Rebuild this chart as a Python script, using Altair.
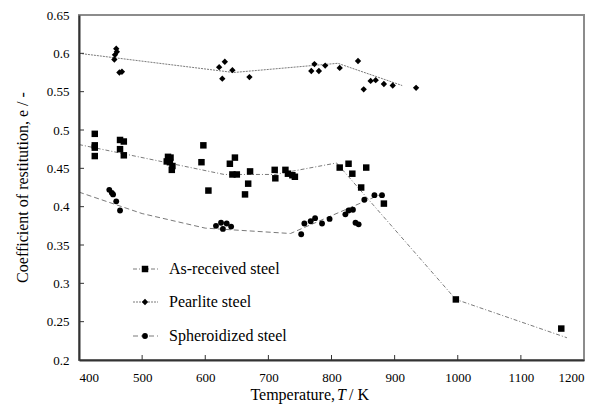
import altair as alt
import pandas as pd

# ---- data ----
T_ar = [425, 425, 425, 425, 465, 471, 465, 471,
        541, 545, 539, 544, 548, 547,
        597, 594, 605, 639, 647, 643, 650, 671, 668, 663, 710, 711,
        727, 731, 738, 742, 813, 827, 833, 855, 847, 883, 997, 1164]
e_ar = [0.495, 0.480, 0.477, 0.466, 0.487, 0.485, 0.475, 0.467,
        0.465, 0.464, 0.459, 0.458, 0.453, 0.448,
        0.480, 0.458, 0.421, 0.456, 0.464, 0.442, 0.442, 0.446, 0.430, 0.416, 0.448, 0.437,
        0.448, 0.443, 0.441, 0.439, 0.451, 0.456, 0.443, 0.451, 0.425, 0.404, 0.279, 0.241]

T_pl = [456, 457, 459, 460, 464, 468, 622, 631, 627, 643, 670,
        768, 773, 780, 790, 813, 842, 851, 862, 870, 883, 897, 934]
e_pl = [0.592, 0.598, 0.606, 0.602, 0.575, 0.576, 0.582, 0.589, 0.567, 0.578, 0.569,
        0.577, 0.586, 0.577, 0.584, 0.581, 0.590, 0.553, 0.564, 0.565, 0.560, 0.558, 0.555]

T_sp = [448, 452, 454, 459, 465, 617, 625, 628, 634, 641,
        752, 757, 767, 774, 785, 797, 822, 827, 834, 838, 843, 852, 868, 880]
e_sp = [0.422, 0.418, 0.416, 0.407, 0.395, 0.375, 0.379, 0.371, 0.378, 0.374,
        0.364, 0.378, 0.381, 0.385, 0.378, 0.384, 0.390, 0.395, 0.396, 0.379, 0.377, 0.409, 0.415, 0.415]

# trend lines
LT_ar = [400, 630, 710, 808, 997, 1173]
LE_ar = [0.481, 0.442, 0.442, 0.457, 0.279, 0.229]
LT_pl = [400, 645, 810, 912]
LE_pl = [0.600, 0.575, 0.587, 0.558]
LT_sp = [400, 500, 600, 735, 875]
LE_sp = [0.419, 0.391, 0.372, 0.365, 0.415]

series = ["As-received steel", "Pearlite steel", "Spheroidized steel"]
x_ticks = [400, 500, 600, 700, 800, 900, 1000, 1100, 1200]
y_ticks = [0.2, 0.25, 0.3, 0.35, 0.4, 0.45, 0.5, 0.55, 0.6, 0.65]

W, H = 505, 345
FONT = "Times New Roman, Liberation Serif, serif"
LINE_GRAY = "#7a7a7a"
AXIS_COL = "#333333"

xs = alt.Scale(domain=[400, 1200], nice=False, zero=False)
ys = alt.Scale(domain=[0.2, 0.65], nice=False, zero=False)

x_axis = alt.Axis(values=x_ticks, format="d", ticks=False, grid=False,
                  domainColor=AXIS_COL, domainWidth=2, labelFont=FONT, labelFontSize=13,
                  labelColor="black", labelPadding=11, title=None, zindex=1)
y_axis = alt.Axis(values=y_ticks, format=".2~f", ticks=False, grid=False,
                  domainColor=AXIS_COL, domainWidth=2, labelFont=FONT, labelFontSize=13,
                  labelColor="black", labelPadding=10,
                  title="Coefficient of restitution, e / -", titleFont=FONT, titleFontSize=16,
                  titleFontWeight="normal", titleColor="black", titleAngle=270,
                  titleX=-57, titleY=172, titleAlign="center", titleBaseline="middle", zindex=1)

X = alt.X("T:Q", scale=xs, axis=x_axis)
Y = alt.Y("e:Q", scale=ys, axis=y_axis)


def pts(T, e):
    return pd.DataFrame({"T": T, "e": e})


dashes = {"As-received steel": [4, 2, 1, 2], "Pearlite steel": [2, 1], "Spheroidized steel": [5, 3]}
shapes = {"As-received steel": ("square", 42), "Pearlite steel": ("diamond", 40), "Spheroidized steel": ("circle", 34)}

line_data = {"As-received steel": (LT_ar, LE_ar), "Pearlite steel": (LT_pl, LE_pl), "Spheroidized steel": (LT_sp, LE_sp)}
pt_data = {"As-received steel": (T_ar, e_ar), "Pearlite steel": (T_pl, e_pl), "Spheroidized steel": (T_sp, e_sp)}

layers = []
for s in series:
    lt, le = line_data[s]
    layers.append(
        alt.Chart(pts(lt, le)).mark_line(color=LINE_GRAY, strokeWidth=1, strokeDash=dashes[s]).encode(
            x=X, y=Y, order="T:Q")
    )

for s in series:
    t, e = pt_data[s]
    shp, sz = shapes[s]
    layers.append(
        alt.Chart(pts(t, e)).mark_point(filled=True, shape=shp, size=sz, color="black", opacity=1).encode(
            x=X, y=Y)
    )

# inward tick marks
layers.append(
    alt.Chart(pd.DataFrame({"T": x_ticks[1:-1]})).mark_rule(color=AXIS_COL, strokeWidth=1).encode(
        x=X, y=alt.value(H), y2=alt.value(H - 5))
)
layers.append(
    alt.Chart(pd.DataFrame({"e": y_ticks[1:-1]})).mark_rule(color=AXIS_COL, strokeWidth=1).encode(
        y=Y, x=alt.value(0), x2=alt.value(5))
)

# legend (inside plot)
leg_y = [254, 287, 321]
for s, ly in zip(series, leg_y):
    d = pd.DataFrame({"label": [s]})
    shp, sz = shapes[s]
    layers.append(alt.Chart(d).mark_rule(color=LINE_GRAY, strokeWidth=1, strokeDash=dashes[s]).encode(
        x=alt.value(54), x2=alt.value(79), y=alt.value(ly)))
    layers.append(alt.Chart(d).mark_point(filled=True, shape=shp, size=sz, color="black", opacity=1).encode(
        x=alt.value(66), y=alt.value(ly)))
    layers.append(alt.Chart(d).mark_text(font=FONT, fontSize=16, align="left", baseline="middle", color="black").encode(
        x=alt.value(90), y=alt.value(ly), text="label:N"))

# x-axis title with italic T
layers.append(alt.Chart(pd.DataFrame({"p": ["Temperature, "]})).mark_text(
    font=FONT, fontSize=16, align="right", baseline="middle", color="black").encode(
    x=alt.value(256), y=alt.value(380), text="p:N"))
layers.append(alt.Chart(pd.DataFrame({"p": ["T"]})).mark_text(
    font=FONT, fontSize=16, fontStyle="italic", align="left", baseline="middle", color="black").encode(
    x=alt.value(258), y=alt.value(380), text="p:N"))
layers.append(alt.Chart(pd.DataFrame({"p": ["/ K"]})).mark_text(
    font=FONT, fontSize=16, align="left", baseline="middle", color="black").encode(
    x=alt.value(270), y=alt.value(380), text="p:N"))

chart = alt.layer(*layers).properties(
    width=W, height=H,
    autosize=alt.AutoSizeParams(type="none"),
    padding={"left": 71, "top": 7, "right": 10, "bottom": 45},
).configure_view(stroke="#8c8c8c", strokeWidth=2)

chart.save("out.html", embed_options={"renderer": "svg", "actions": False})
